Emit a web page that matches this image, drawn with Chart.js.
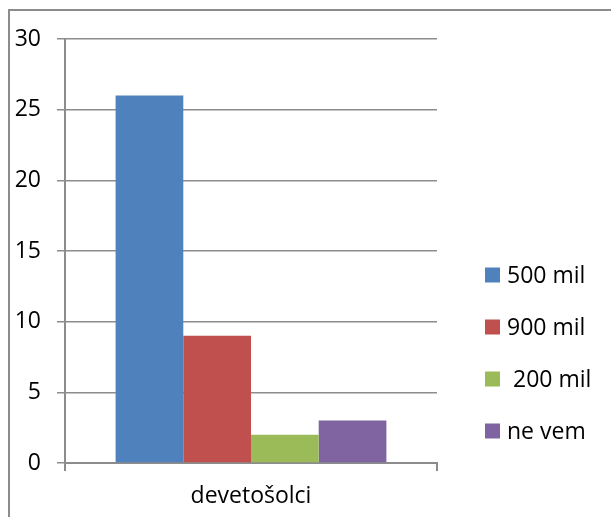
<!DOCTYPE html>
<html>
<head>
<meta charset="utf-8">
<script src="https://cdn.jsdelivr.net/npm/chart.js@4"></script>
<style>
  html, body { margin: 0; padding: 0; background: #fff; }
  #wrap { position: relative; width: 611px; height: 517px; overflow: hidden; }
  #frame { position: absolute; left: 8px; top: 9px; width: 640px; height: 560px;
           border-left: 2px solid #8c8c8c; border-top: 2px solid #8c8c8c; }
  canvas { position: absolute; left: 0; top: 0; }
</style>
</head>
<body>
<div id="wrap">
  <div id="frame"></div>
  <canvas id="chart" width="611" height="517"></canvas>
</div>
<script>
// values
const categories = ['devetošolci'];
const seriesNames = ['500 mil', '900 mil', ' 200 mil', 'ne vem'];
const seriesValues = [[26], [9], [2], [3]];
const seriesColors = ['#4F81BD', '#C0504D', '#9BBB59', '#8064A2'];
const yTicks = [0, 5, 10, 15, 20, 25, 30];

const FONT = "'Open Sans', 'Liberation Sans', sans-serif";
const AXIS = '#8c8c8c';

// legend drawn by hand so it sits where the original one does
const sideLegend = {
  id: 'sideLegend',
  afterDraw(chart) {
    const ctx = chart.ctx;
    ctx.save();
    ctx.font = '23px ' + FONT;
    ctx.textBaseline = 'middle';
    chart.data.datasets.forEach((ds, i) => {
      const cy = 275 + i * 52;
      ctx.fillStyle = ds.backgroundColor;
      ctx.fillRect(485, cy - 7.5, 15, 15);
      ctx.fillStyle = '#000';
      ctx.fillText(ds.label, 507, cy + 1);
    });
    ctx.restore();
  }
};

new Chart(document.getElementById('chart'), {
  type: 'bar',
  data: {
    labels: categories,
    datasets: seriesNames.map((name, i) => ({
      label: name,
      data: seriesValues[i],
      backgroundColor: seriesColors[i],
      borderWidth: 0,
      barPercentage: 1,
      categoryPercentage: 0.728
    }))
  },
  options: {
    responsive: false,
    animation: false,
    layout: { padding: { top: 39, right: 174, bottom: 0, left: 0 } },
    plugins: { legend: { display: false }, tooltip: { enabled: false } },
    scales: {
      x: {
        offset: true,
        grid: { offset: true, drawOnChartArea: false, drawTicks: true, tickLength: 8, color: AXIS, lineWidth: 2 },
        border: { color: AXIS, width: 2 },
        ticks: { color: '#000', font: { family: FONT, size: 23 }, padding: 12 },
        afterFit(s) { s.height = 54; }
      },
      y: {
        min: 0,
        max: 30,
        afterBuildTicks(s) { s.ticks = yTicks.map(v => ({ value: v })); },
        grid: { color: AXIS, lineWidth: 1.5, tickLength: 8 },
        border: { color: AXIS, width: 2 },
        ticks: { color: '#000', font: { family: FONT, size: 23 }, padding: 16 },
        afterFit(s) { s.width = 65; }
      }
    }
  },
  plugins: [sideLegend]
});
</script>
</body>
</html>
